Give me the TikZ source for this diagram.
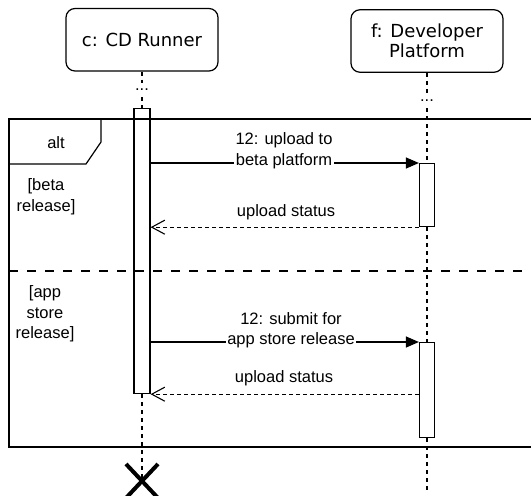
\documentclass[tikz,border=0pt]{standalone}
\usepackage{fontspec}
\setmainfont{Liberation Sans}
\newfontfamily\titlefont{DejaVu Sans}
\usetikzlibrary{arrows.meta,shapes.misc}

\begin{document}
\begin{tikzpicture}[x=1pt,y=-1pt,
  every node/.style={font=\fontsize{16.5}{20.5}\selectfont, inner sep=0pt},
  titlebox/.style={draw, rounded corners=9pt, line width=1.2pt, minimum width=152pt,
    minimum height=62.5pt, align=center, font=\titlefont\fontsize{18}{20.5}\selectfont},
  actbox/.style={draw, fill=white, line width=1.2pt, minimum width=15pt, anchor=north},
  dotsnode/.style={minimum width=14pt, minimum height=14pt},
  lifeline/.style={line width=1.1pt, dash pattern=on 4pt off 4pt},
  msg/.style={line width=1.2pt, -{Triangle[length=13pt,width=11pt]}},
  reply/.style={line width=1.1pt, dash pattern=on 4pt off 3pt,
    -{Straight Barb[length=13pt,width=14pt,line width=1.1pt]}},
  msglabel/.style={fill=white, align=center, inner sep=1.5pt},
  plainlabel/.style={align=center},
  framestroke/.style={line width=1.2pt},
]
\useasboundingbox (0,0) rectangle (531,496);

% participants
\node[titlebox] (cbox) at (142,39.75) {c: CD Runner};
\node[titlebox] (fbox) at (427,41) {f: Developer\\Platform};

% elided part of the lifelines
\node[dotsnode] (cdots) at (142,90) {...};
\node[dotsnode] (fdots) at (427,101) {...};

% activations
\node[actbox, minimum width=16pt, minimum height=285.5pt] (cact) at (142,107.5) {};
\node[actbox, minimum height=63pt] (fact1) at (427,163) {};
\node[actbox, minimum height=95pt] (fact2) at (427,342) {};

% end points of the lifelines
\node[cross out, minimum width=28pt, minimum height=30pt] (cend) at (142,481) {};
\coordinate (fend) at (427,491);

% lifelines
\draw[lifeline] (cbox) -- (cdots);
\draw[lifeline] (cdots) -- (cact);
\draw[lifeline] (fbox) -- (fdots);
\draw[lifeline] (fdots) -- (fact1);
\draw[lifeline] (fact1) -- (fact2);
\draw[lifeline] (fact2) -- (fend);
\draw[lifeline] (cact) -- (cend.center);
\node[cross out, draw, line width=4pt, minimum width=28pt, minimum height=30pt] at (cend) {};

% redraw activations over the lifelines
\node[actbox, minimum width=16pt, minimum height=285.5pt] at (142,107.5) {};
\node[actbox, minimum height=63pt] at (427,163) {};
\node[actbox, minimum height=95pt] at (427,342) {};

% combined fragment "alt"
\draw[framestroke] (9,119) rectangle (545,447);
\draw[framestroke] (9,164) -- (86,164) -- (101,142) -- (101,119);
\node[plainlabel] (alttag) at (56,143) {alt};
\draw[line width=2.8pt, dash pattern=on 9pt off 9pt] (9,271) -- (545,271);

% guards
\node[plainlabel] (g1) at (46,196.5) {[beta\\release]};
\node[plainlabel] (g2) at (45,314) {[app\\store\\release]};

% messages
\draw[msg] (cact.east |- fact1.north) -- (fact1.north west);
\node[msglabel] (l1) at (284,150.75) {12: upload to\\beta platform};
\draw[reply] (fact1.south west) -- (cact.east |- fact1.south);
\node[plainlabel] (l2) at (286,212) {upload status};

\draw[msg] (cact.east |- fact2.north) -- (fact2.north west);
\node[msglabel] (l3) at (291,330) {12: submit for\\app store release};
\draw[reply] (fact2.west |- cact.south) -- (cact.south east);
\node[plainlabel] (l4) at (284,378) {upload status};
\end{tikzpicture}
\end{document}
